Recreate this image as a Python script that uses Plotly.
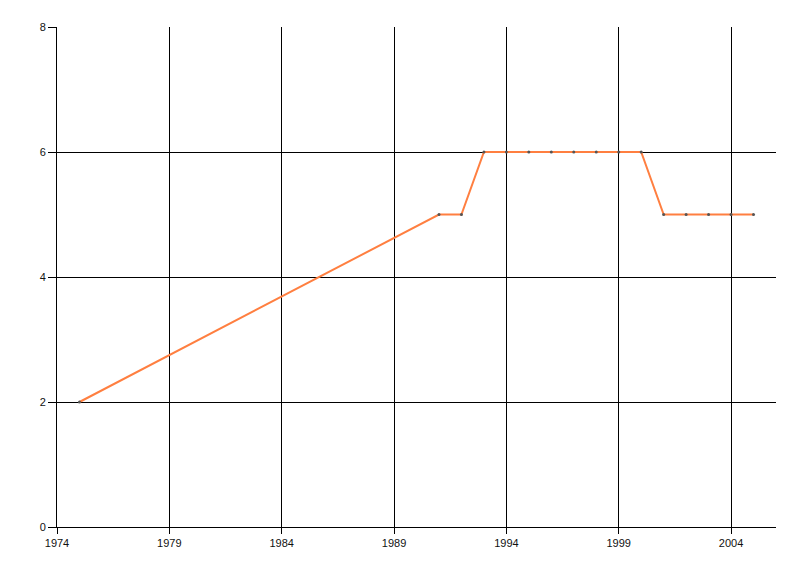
import plotly.graph_objects as go

years = [1975, 1991, 1992, 1993, 1994, 1995, 1996, 1997, 1998, 1999, 2000, 2001, 2002, 2003, 2004, 2005]
values = [2, 5, 5, 6, 6, 6, 6, 6, 6, 6, 6, 5, 5, 5, 5, 5]
x_ticks = [1974, 1979, 1984, 1989, 1994, 1999, 2004]
y_ticks = [0, 2, 4, 6, 8]

fig = go.Figure()
fig.add_trace(go.Scatter(
    x=years, y=values, mode="lines+markers",
    line=dict(color="rgb(255,127,64)", width=2),
    marker=dict(color="#555555", size=3, line=dict(width=0)),
    showlegend=False,
))

fig.update_layout(
    width=800, height=576,
    margin=dict(l=49, r=32, t=19, b=57),
    paper_bgcolor="white", plot_bgcolor="white",
    font=dict(family="Liberation Sans, Arial, sans-serif", size=11, color="#111111"),
    xaxis=dict(
        range=[1974, 2006], tickvals=x_ticks, ticktext=[str(t) for t in x_ticks],
        showgrid=True, gridcolor="black", gridwidth=1,
        showline=True, linecolor="black", linewidth=1,
        ticks="outside", ticklen=6, tickcolor="black",
        zeroline=False,
    ),
    yaxis=dict(
        range=[0, 8], tickvals=y_ticks,
        showgrid=True, gridcolor="black", gridwidth=1,
        showline=True, linecolor="black", linewidth=1,
        ticks="outside", ticklen=8, tickcolor="black",
        zeroline=False,
    ),
)

fig.write_html("out.html")
